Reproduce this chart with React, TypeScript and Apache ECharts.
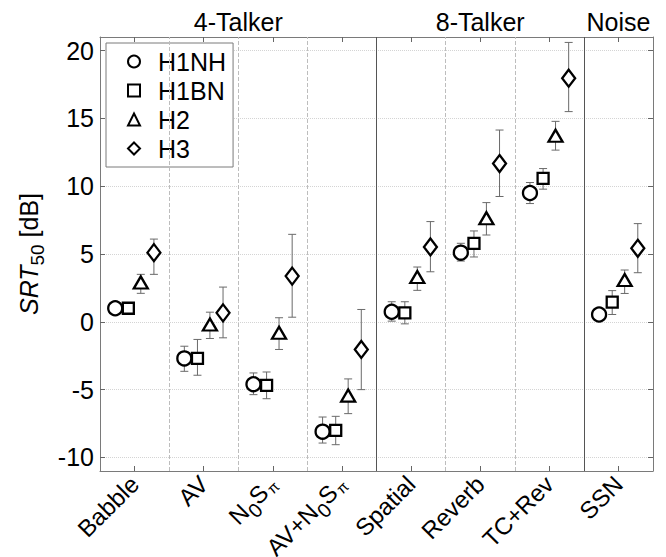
import React, { useEffect, useRef } from 'react';
import * as echarts from 'echarts';

const categories = ['Babble', 'AV', 'N0Sπ', 'AV+N0Sπ', 'Spatial', 'Reverb', 'TC+Rev', 'SSN'];
const groupLabels = ['4-Talker', '8-Talker', 'Noise'];
const groupSizes = [4, 3, 1];
const seriesNames = ['H1NH', 'H1BN', 'H2', 'H3'];
const yTickValues = [-10, -5, 0, 5, 10, 15, 20];

const h1nh = [1.0, -2.7, -4.6, -8.1, 0.74, 5.1, 9.5, 0.54];
const h1nhLow = [0.7, -3.65, -5.37, -8.94, 0.05, 4.48, 8.72, 0.3];
const h1nhHigh = [1.3, -1.8, -3.77, -7.02, 1.48, 5.79, 10.27, 0.8];

const h1bn = [1.0, -2.7, -4.68, -8.0, 0.66, 5.79, 10.57, 1.45];
const h1bnLow = [0.7, -3.94, -5.67, -9.06, -0.15, 4.78, 9.78, 0.54];
const h1bnHigh = [1.3, -1.3, -3.7, -6.97, 1.48, 6.7, 11.3, 2.3];

const h2 = [2.9, -0.2, -0.81, -5.44, 3.3, 7.64, 13.72, 3.08];
const h2Low = [2.1, -1.23, -2.04, -6.77, 2.32, 6.4, 12.66, 2.09];
const h2High = [3.5, 0.71, 0.3, -4.21, 4.04, 8.79, 14.78, 3.82];

const h3 = [5.1, 0.66, 3.37, -2.04, 5.52, 11.67, 17.96, 5.42];
const h3Low = [3.5, -1.18, 0.34, -5.0, 3.69, 9.24, 15.5, 3.62];
const h3High = [6.1, 2.56, 6.45, 0.91, 7.39, 14.14, 20.6, 7.24];

const FONT = '"Liberation Sans", Arial, Helvetica, sans-serif';

export default function App() {
  const ref = useRef<HTMLDivElement>(null);

  useEffect(() => {
    document.body.style.margin = '0';
    if (!ref.current) return;
    const chart = echarts.init(ref.current, null, { renderer: 'svg' });

    const means = [h1nh, h1bn, h2, h3];
    const lows = [h1nhLow, h1bnLow, h2Low, h3Low];
    const highs = [h1nhHigh, h1bnHigh, h2High, h3High];
    const offsets = [-0.28, -0.09, 0.09, 0.28];
    const symbols = ['circle', 'rect', 'triangle', 'diamond'];
    const sizes: any[] = [14, 11, [14, 12], [13, 17]];

    const n = categories.length;
    const xMin = 0.5;
    const xMax = n + 0.5;
    const centers = categories.map((_, i) => i + 1);

    const groupCenters: number[] = [];
    const darkBounds: number[] = [];
    let acc = 0;
    groupSizes.forEach((s, gi) => {
      groupCenters.push(acc + (s + 1) / 2);
      acc += s;
      if (gi < groupSizes.length - 1) darkBounds.push(acc + 0.5);
    });
    const allBounds = categories.slice(1).map((_, i) => i + 1.5);

    const markLineData = allBounds.map((b) => {
      const dark = darkBounds.indexOf(b) >= 0;
      return {
        xAxis: b,
        lineStyle: dark
          ? { color: '#555', width: 1, type: 'solid' }
          : { color: '#bdbdbd', width: 1, type: 'dashed' },
      };
    });

    const axisLineStyle = { color: '#7a7a7a', width: 1 };
    const tickStyle = { color: '#666', width: 1 };

    const errorSeries = means.map((m, si) => ({
      type: 'custom',
      name: 'err-' + seriesNames[si],
      xAxisIndex: 0,
      yAxisIndex: 0,
      z: 3,
      silent: true,
      encode: { x: 0, y: [1, 2] },
      renderItem: (params: any, api: any) => {
        const x = api.value(0);
        const lo = api.coord([x, api.value(1)]);
        const hi = api.coord([x, api.value(2)]);
        const cw = 4;
        const st = { stroke: '#6a6a6a', lineWidth: 1 };
        return {
          type: 'group',
          children: [
            { type: 'line', shape: { x1: lo[0], y1: lo[1], x2: hi[0], y2: hi[1] }, style: st },
            { type: 'line', shape: { x1: lo[0] - cw, y1: lo[1], x2: lo[0] + cw, y2: lo[1] }, style: st },
            { type: 'line', shape: { x1: hi[0] - cw, y1: hi[1], x2: hi[0] + cw, y2: hi[1] }, style: st },
          ],
        };
      },
      data: m.map((_, i) => [centers[i] + offsets[si], lows[si][i], highs[si][i]]),
      markLine:
        si === 0
          ? {
              silent: true,
              symbol: ['none', 'none'],
              label: { show: false },
              animation: false,
              data: markLineData,
            }
          : undefined,
    }));

    const scatterSeries = means.map((m, si) => ({
      type: 'scatter',
      name: seriesNames[si],
      xAxisIndex: 0,
      yAxisIndex: 0,
      z: 5,
      symbol: symbols[si],
      symbolSize: sizes[si],
      itemStyle: { color: '#ffffff', borderColor: '#000000', borderWidth: 2.3, opacity: 1 },
      emphasis: { disabled: true },
      data: m.map((v, i) => [centers[i] + offsets[si], v]),
    }));

    const subRich = {
      n: { fontSize: 24, lineHeight: 24, verticalAlign: 'top', color: '#000', fontFamily: FONT },
      s: { fontSize: 20, lineHeight: 20, padding: [11, 0, 0, 0], verticalAlign: 'top', color: '#000', fontFamily: FONT },
      p: { fontSize: 15, lineHeight: 15, padding: [10, 0, 0, 2], verticalAlign: 'top', color: '#000', fontFamily: FONT },
    };

    const option: any = {
      animation: false,
      textStyle: { fontFamily: FONT },
      legend: {
        orient: 'vertical',
        left: 106,
        top: 43,
        padding: [6, 7, 6, 21],
        itemGap: 4,
        itemWidth: 12,
        itemHeight: 12,
        borderColor: '#7a7a7a',
        borderWidth: 1,
        backgroundColor: '#ffffff',
        selectedMode: false,
        textStyle: { fontSize: 25, color: '#000', fontFamily: FONT, padding: [0, 0, 0, 13] },
        data: seriesNames,
      },
      grid: {
        left: 100,
        right: 13,
        top: 37,
        bottom: 86,
        containLabel: false,
        outerBoundsMode: 'none',
      },
      xAxis: [
        {
          type: 'value',
          min: xMin,
          max: xMax,
          show: false,
          position: 'bottom',
          splitLine: { show: false },
        },
        {
          type: 'category',
          data: categories,
          position: 'bottom',
          boundaryGap: true,
          axisLine: { show: true, onZero: false, lineStyle: axisLineStyle },
          axisTick: { show: true, inside: true, alignWithLabel: true, length: 5, lineStyle: tickStyle },
          axisLabel: {
            interval: 0,
            rotate: 45,
            margin: 9,
            color: '#000',
            fontSize: 24,
            fontFamily: FONT,
            formatter: (v: string) => {
              if (v === 'N0Sπ') return '{n|N}{s|0}{n|S}{p|π}';
              if (v === 'AV+N0Sπ') return '{n|AV+N}{s|0}{n|S}{p|π}';
              return '{n|' + v + '}';
            },
            rich: subRich,
          },
          splitLine: { show: false },
        },
        {
          type: 'value',
          min: xMin,
          max: xMax,
          position: 'top',
          axisLine: { show: true, onZero: false, lineStyle: axisLineStyle },
          axisTick: { show: true, inside: true, length: 5, lineStyle: tickStyle, customValues: centers },
          axisLabel: {
            show: true,
            margin: 3,
            color: '#000',
            fontSize: 25,
            fontFamily: FONT,
            customValues: groupCenters,
            formatter: (v: number) => {
              const k = groupCenters.indexOf(v);
              return k >= 0 ? groupLabels[k] : '';
            },
          },
          splitLine: { show: false },
        },
      ],
      yAxis: [
        {
          type: 'value',
          min: -11,
          max: 21,
          position: 'left',
          name: '{i|SRT}{s|50}{n| [dB]}',
          nameLocation: 'middle',
          nameGap: 56,
          nameTextStyle: {
            color: '#000',
            fontSize: 25,
            rich: {
              i: { fontSize: 25, lineHeight: 25, fontStyle: 'italic', verticalAlign: 'top', color: '#000', fontFamily: FONT },
              s: { fontSize: 19, lineHeight: 19, padding: [11, 0, 0, 0], verticalAlign: 'top', color: '#000', fontFamily: FONT },
              n: { fontSize: 25, lineHeight: 25, verticalAlign: 'top', color: '#000', fontFamily: FONT },
            },
          },
          axisLine: { show: true, onZero: false, lineStyle: axisLineStyle },
          axisTick: { show: true, inside: true, length: 5, lineStyle: tickStyle, customValues: yTickValues },
          axisLabel: {
            margin: 6,
            color: '#000',
            fontSize: 25,
            fontFamily: FONT,
            customValues: yTickValues,
            formatter: (v: number) => (yTickValues.indexOf(v) >= 0 ? String(v) : ''),
          },
          splitLine: { show: true, lineStyle: { color: '#d4d4d4', type: 'dotted', width: 1 } },
        },
        {
          type: 'value',
          min: -11,
          max: 21,
          position: 'right',
          axisLine: { show: true, onZero: false, lineStyle: axisLineStyle },
          axisTick: { show: true, inside: true, length: 5, lineStyle: tickStyle, customValues: yTickValues },
          axisLabel: { show: false },
          splitLine: { show: false },
        },
      ],
      series: [...errorSeries, ...scatterSeries],
    };

    chart.setOption(option);
    return () => {
      chart.dispose();
    };
  }, []);

  return <div ref={ref} style={{ width: 666, height: 557 }} />;
}
